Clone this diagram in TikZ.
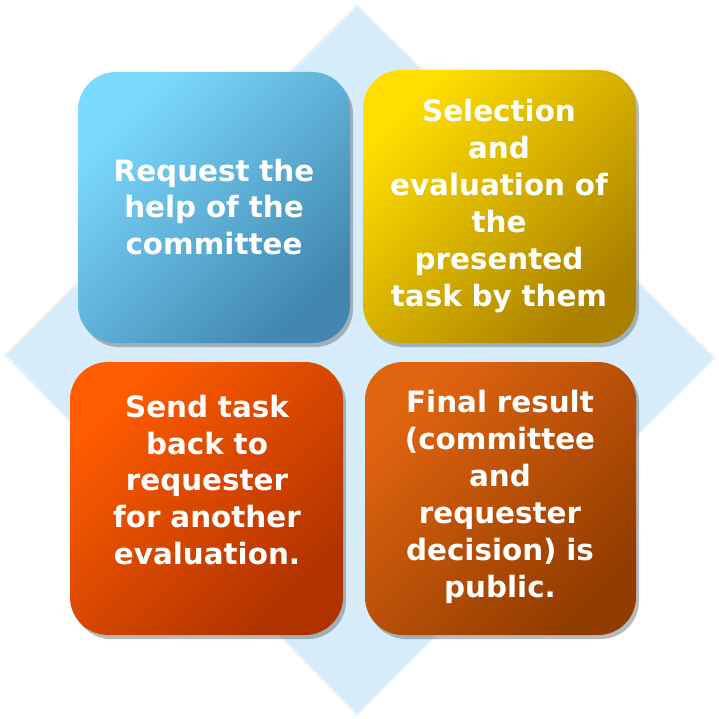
\documentclass[tikz,border=0pt]{standalone}
\usepackage{fontspec}
\setmainfont{DejaVu Sans}
\usetikzlibrary{shadows}
\definecolor{dia}{RGB}{214,236,250}
\definecolor{diaedge}{RGB}{235,245,252}
\tikzset{
 card/.style 2 args={rounded corners=38bp, left color=#1, right color=#2, shading angle=45, drop shadow={shadow xshift=3bp,shadow yshift=-4bp,opacity=0.45,fill=black!60}},
 lbl/.style={text=white, font=\bfseries\fontsize{29.5}{37}\selectfont, align=center, text width=260bp}
}
\definecolor{c1a}{RGB}{125,218,255}\definecolor{c1b}{RGB}{65,135,175}
\definecolor{c2a}{RGB}{255,222,0}\definecolor{c2b}{RGB}{170,128,0}
\definecolor{c3a}{RGB}{255,92,0}\definecolor{c3b}{RGB}{175,50,0}
\definecolor{c4a}{RGB}{225,100,15}\definecolor{c4b}{RGB}{145,60,0}
\begin{document}
\begin{tikzpicture}[x=1bp,y=-1bp]
\useasboundingbox (0,0) rectangle (719,719);
\node[coordinate] (dt) at (357,5) {};
\node[coordinate] (dr) at (715,358) {};
\node[coordinate] (db) at (357,715) {};
\node[coordinate] (dl) at (5,355) {};
\draw[fill=dia, draw=diaedge, line width=2bp] (dt) -- (dr) -- (db) -- (dl) -- cycle;
\shade[card={c1a}{c1b}] (78,72) rectangle (350,343);
\shade[card={c2a}{c2b}] (363,70) rectangle (636,343);
\shade[card={c3a}{c3b}] (70,362) rectangle (343,635);
\shade[card={c4a}{c4b}] (365,362) rectangle (636,635);
\node[lbl] (a) at (214,207) {Request the\\help of the\\committee};
\node[lbl] (b) at (499,206) {Selection\\and\\evaluation of\\the\\presented\\task by them};
\node[lbl] (c) at (207,480) {Send task\\back to\\requester\\for another\\evaluation.};
\node[lbl] (d) at (500,497) {Final result\\(committee\\and\\requester\\decision) is\\public.};
\end{tikzpicture}
\end{document}
